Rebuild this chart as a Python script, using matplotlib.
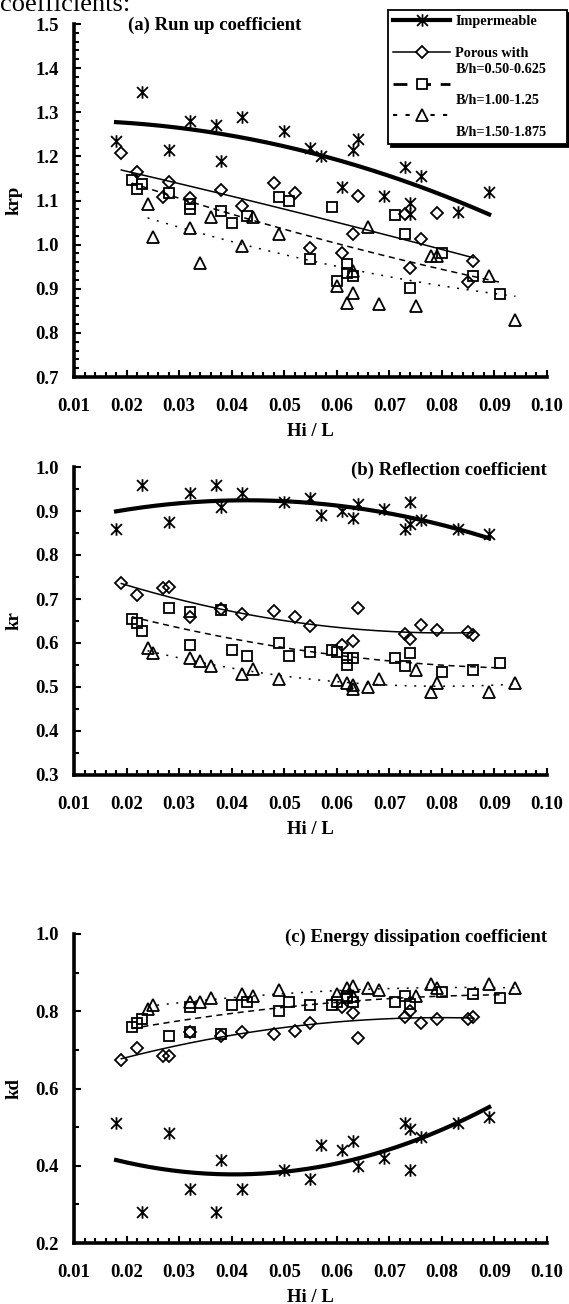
import numpy as np
import matplotlib
matplotlib.use('Agg')
import matplotlib.pyplot as plt
from matplotlib.path import Path
from matplotlib.lines import Line2D
from matplotlib.ticker import MultipleLocator, FormatStrFormatter

plt.rcParams['font.family'] = ['Liberation Serif', 'DejaVu Serif']
plt.rcParams['font.weight'] = 'bold'

# ---------------- data ----------------
# (a) Run up coefficient krp
a_imp_x = [0.018, 0.023, 0.028, 0.032, 0.037, 0.038, 0.042, 0.050, 0.055, 0.057, 0.061, 0.063, 0.064, 0.069, 0.073, 0.074, 0.074, 0.076, 0.083, 0.089]
a_imp_y = [1.235, 1.345, 1.215, 1.280, 1.270, 1.190, 1.290, 1.258, 1.220, 1.200, 1.130, 1.215, 1.240, 1.110, 1.175, 1.095, 1.070, 1.155, 1.075, 1.120]
a_p1_x = [0.019, 0.022, 0.027, 0.028, 0.032, 0.038, 0.042, 0.048, 0.052, 0.055, 0.061, 0.063, 0.064, 0.073, 0.074, 0.076, 0.079, 0.085, 0.086]
a_p1_y = [1.207, 1.165, 1.108, 1.142, 1.105, 1.124, 1.087, 1.140, 1.118, 0.993, 0.980, 1.025, 1.110, 1.070, 0.948, 1.012, 1.072, 0.915, 0.962]
a_p2_x = [0.021, 0.022, 0.023, 0.028, 0.032, 0.032, 0.038, 0.040, 0.043, 0.049, 0.051, 0.055, 0.059, 0.060, 0.062, 0.062, 0.063, 0.071, 0.073, 0.074, 0.080, 0.086, 0.091]
a_p2_y = [1.147, 1.126, 1.138, 1.117, 1.093, 1.080, 1.076, 1.050, 1.064, 1.108, 1.100, 0.967, 1.085, 0.918, 0.955, 0.935, 0.930, 1.067, 1.025, 0.902, 0.980, 0.930, 0.888]
a_p3_x = [0.024, 0.025, 0.032, 0.034, 0.036, 0.042, 0.044, 0.049, 0.060, 0.062, 0.063, 0.063, 0.066, 0.068, 0.075, 0.078, 0.079, 0.089, 0.094]
a_p3_y = [1.093, 1.017, 1.038, 0.958, 1.062, 0.998, 1.062, 1.025, 0.907, 0.867, 0.940, 0.890, 1.040, 0.865, 0.860, 0.975, 0.975, 0.930, 0.830]

# (b) Reflection coefficient kr
b_imp_x = [0.018, 0.023, 0.028, 0.032, 0.037, 0.038, 0.042, 0.050, 0.055, 0.057, 0.061, 0.063, 0.064, 0.069, 0.073, 0.074, 0.074, 0.076, 0.083, 0.089]
b_imp_y = [0.858, 0.960, 0.875, 0.940, 0.960, 0.910, 0.940, 0.920, 0.930, 0.890, 0.900, 0.885, 0.915, 0.905, 0.860, 0.920, 0.870, 0.880, 0.860, 0.848]
b_p1_x = [0.019, 0.022, 0.027, 0.028, 0.032, 0.038, 0.042, 0.048, 0.052, 0.055, 0.061, 0.063, 0.064, 0.073, 0.074, 0.076, 0.079, 0.085, 0.086]
b_p1_y = [0.737, 0.708, 0.725, 0.728, 0.660, 0.678, 0.667, 0.672, 0.658, 0.638, 0.595, 0.605, 0.680, 0.620, 0.610, 0.640, 0.630, 0.625, 0.618]
b_p2_x = [0.021, 0.022, 0.023, 0.028, 0.032, 0.032, 0.038, 0.040, 0.043, 0.049, 0.051, 0.055, 0.059, 0.060, 0.062, 0.062, 0.063, 0.071, 0.073, 0.074, 0.080, 0.086, 0.091]
b_p2_y = [0.655, 0.645, 0.628, 0.680, 0.670, 0.595, 0.675, 0.585, 0.570, 0.600, 0.570, 0.580, 0.585, 0.580, 0.550, 0.565, 0.565, 0.565, 0.548, 0.578, 0.535, 0.538, 0.555]
b_p3_x = [0.024, 0.025, 0.032, 0.034, 0.036, 0.042, 0.044, 0.049, 0.060, 0.062, 0.063, 0.063, 0.066, 0.068, 0.075, 0.078, 0.079, 0.089, 0.094]
b_p3_y = [0.588, 0.578, 0.565, 0.558, 0.548, 0.530, 0.540, 0.518, 0.515, 0.510, 0.495, 0.505, 0.500, 0.518, 0.538, 0.488, 0.510, 0.488, 0.508]

# (c) Energy dissipation coefficient kd
c_imp_x = [0.018, 0.023, 0.028, 0.032, 0.037, 0.038, 0.042, 0.050, 0.055, 0.057, 0.061, 0.063, 0.064, 0.069, 0.073, 0.074, 0.074, 0.076, 0.083, 0.089]
c_imp_y = [0.510, 0.280, 0.485, 0.340, 0.280, 0.415, 0.340, 0.390, 0.365, 0.455, 0.440, 0.465, 0.400, 0.420, 0.510, 0.390, 0.495, 0.475, 0.510, 0.525]
c_p1_x = [0.019, 0.022, 0.027, 0.028, 0.032, 0.038, 0.042, 0.048, 0.052, 0.055, 0.061, 0.063, 0.064, 0.073, 0.074, 0.076, 0.079, 0.085, 0.086]
c_p1_y = [0.675, 0.705, 0.685, 0.685, 0.745, 0.735, 0.745, 0.740, 0.750, 0.770, 0.810, 0.795, 0.730, 0.785, 0.800, 0.770, 0.780, 0.780, 0.785]
c_p2_x = [0.021, 0.022, 0.023, 0.028, 0.032, 0.032, 0.038, 0.040, 0.043, 0.049, 0.051, 0.055, 0.059, 0.060, 0.062, 0.062, 0.063, 0.071, 0.073, 0.074, 0.080, 0.086, 0.091]
c_p2_y = [0.760, 0.770, 0.780, 0.735, 0.745, 0.810, 0.740, 0.815, 0.825, 0.800, 0.825, 0.815, 0.815, 0.825, 0.835, 0.840, 0.825, 0.825, 0.840, 0.820, 0.850, 0.845, 0.835]
c_p3_x = [0.024, 0.025, 0.032, 0.034, 0.036, 0.042, 0.044, 0.049, 0.060, 0.062, 0.063, 0.063, 0.066, 0.068, 0.075, 0.078, 0.079, 0.089, 0.094]
c_p3_y = [0.805, 0.815, 0.825, 0.825, 0.835, 0.845, 0.840, 0.855, 0.845, 0.860, 0.865, 0.840, 0.860, 0.855, 0.840, 0.870, 0.860, 0.870, 0.860]

x_ticks = [0.01, 0.02, 0.03, 0.04, 0.05, 0.06, 0.07, 0.08, 0.09, 0.10]
legend_labels = ['Impermeable', 'Porous with', 'B/h=0.50-0.625', 'B/h=1.00-1.25', 'B/h=1.50-1.875']
panel_titles = ['(a) Run up coefficient', '(b) Reflection coefficient', '(c) Energy dissipation coefficient']
y_labels = ['krp', 'kr', 'kd']
x_label = 'Hi / L'

# ---------------- styles ----------------
W, H = 569, 1304
fig = plt.figure(figsize=(W / 100, H / 100), dpi=100)

ast = Path([(-1, -1), (1, 1), (-1, 1), (1, -1), (0, -1.15), (0, 1.15)],
           [Path.MOVETO, Path.LINETO] * 3)

series_style = [
    dict(marker=ast, ms=9, mew=1.3, lw=3.0, ls='-'),
    dict(marker='D', ms=6.0, mew=1.3, lw=1.1, ls='-'),
    dict(marker='s', ms=7.5, mew=1.3, lw=1.1, ls=(0, (4, 3))),
    dict(marker='^', ms=8.5, mew=1.3, lw=1.1, ls=(0, (1.3, 5))),
]

def px_axes(left, right, top, bottom):
    return fig.add_axes([left / W, 1 - bottom / H, (right - left) / W, (bottom - top) / H])

def draw_panel(ax, data, ylim, ymaj, ymin_, title, tpos, ylab):
    for (xs, ys), st in zip(data, series_style):
        xs = np.asarray(xs); ys = np.asarray(ys)
        ax.plot(xs, ys, ls='none', marker=st['marker'], ms=st['ms'], mew=st['mew'],
                mfc='none', mec='black', zorder=3)
        coef = np.polyfit(xs, ys, 2)
        xx = np.linspace(xs.min(), xs.max(), 200)
        ax.plot(xx, np.polyval(coef, xx), color='black', lw=st['lw'], ls=st['ls'], zorder=2)
    ax.set_xlim(0.01, 0.10)
    ax.set_ylim(*ylim)
    ax.set_xticks(x_ticks)
    ax.xaxis.set_major_formatter(FormatStrFormatter('%.2f'))
    ax.xaxis.set_minor_locator(MultipleLocator(0.002))
    ax.yaxis.set_major_locator(MultipleLocator(ymaj))
    ax.yaxis.set_minor_locator(MultipleLocator(ymin_))
    ax.yaxis.set_major_formatter(FormatStrFormatter('%.1f'))
    for s in ['top', 'right']:
        ax.spines[s].set_visible(False)
    for s in ['left', 'bottom']:
        ax.spines[s].set_linewidth(2.6)
        ax.spines[s].set_capstyle('projecting')
    ax.tick_params(which='major', direction='in', length=5, width=1.5, labelsize=13.5)
    ax.tick_params(which='minor', direction='in', length=3.3, width=1.5)
    ax.tick_params(axis='x', which='major', pad=15)
    ax.tick_params(axis='y', which='major', pad=11)
    ax.set_xlabel(x_label, fontsize=13.5, fontweight='bold', labelpad=6)
    ax.set_ylabel(ylab, fontsize=13.5, fontweight='bold', labelpad=9)
    ax.text(tpos[0], tpos[1], title, transform=ax.transAxes, fontsize=13.5,
            fontweight='bold', ha=tpos[2], va='center')
    ax.patch.set_visible(False)

ax_a = px_axes(74, 547, 24, 377)
ax_b = px_axes(74, 547, 467, 775)
ax_c = px_axes(74, 547, 934, 1243)

draw_panel(ax_a, [(a_imp_x, a_imp_y), (a_p1_x, a_p1_y), (a_p2_x, a_p2_y), (a_p3_x, a_p3_y)],
           (0.7, 1.5), 0.1, 0.02, panel_titles[0], (0.115, 0.995, 'left'), y_labels[0])
draw_panel(ax_b, [(b_imp_x, b_imp_y), (b_p1_x, b_p1_y), (b_p2_x, b_p2_y), (b_p3_x, b_p3_y)],
           (0.3, 1.0), 0.1, 0.05, panel_titles[1], (1.0, 0.99, 'right'), y_labels[1])
draw_panel(ax_c, [(c_imp_x, c_imp_y), (c_p1_x, c_p1_y), (c_p2_x, c_p2_y), (c_p3_x, c_p3_y)],
           (0.2, 1.0), 0.2, 0.1, panel_titles[2], (1.0, 0.99, 'right'), y_labels[2])

# ---------------- legend ----------------
blank = Line2D([], [], ls='none', marker='none')
h_imp = Line2D([], [], color='black', lw=3.0, marker=ast, ms=9, mew=1.3, mfc='none', mec='black')
h_p1 = Line2D([], [], color='black', lw=1.1, marker='D', ms=6.0, mew=1.3, mfc='white', mec='black')
h_p2 = Line2D([], [], color='black', lw=2.0, ls=(0, (5, 3.5)), marker='s', ms=7.0, mew=1.3, mfc='white', mec='black')
h_p3 = Line2D([], [], color='black', lw=1.5, ls=(0, (2, 4)), marker='^', ms=8, mew=1.3, mfc='white', mec='black')
handles = [h_imp, blank, h_p1, blank, h_p2, blank, h_p3, blank]
labels = [legend_labels[0], ' ', legend_labels[1], legend_labels[2], ' ', legend_labels[3], ' ', legend_labels[4]]
leg = fig.legend(handles, labels, loc='upper left',
                 bbox_to_anchor=(388 / W, 1 - 10 / H, (567 - 388) / W, 0), mode='expand',
                 borderaxespad=0, frameon=True, fancybox=False, edgecolor='black',
                 prop=dict(size=10.3, weight='bold'), handlelength=4.0, handletextpad=0.35,
                 labelspacing=0.2, borderpad=0.35, shadow=dict(color='black', alpha=1), numpoints=1)
leg.get_frame().set_linewidth(1.3)

# partially visible text at top of the page
fig.text(0.0, 1 - 11 / H, 'coefficients:', fontsize=19, fontweight='normal', va='baseline', ha='left')

fig.savefig('out.png', dpi=100)
